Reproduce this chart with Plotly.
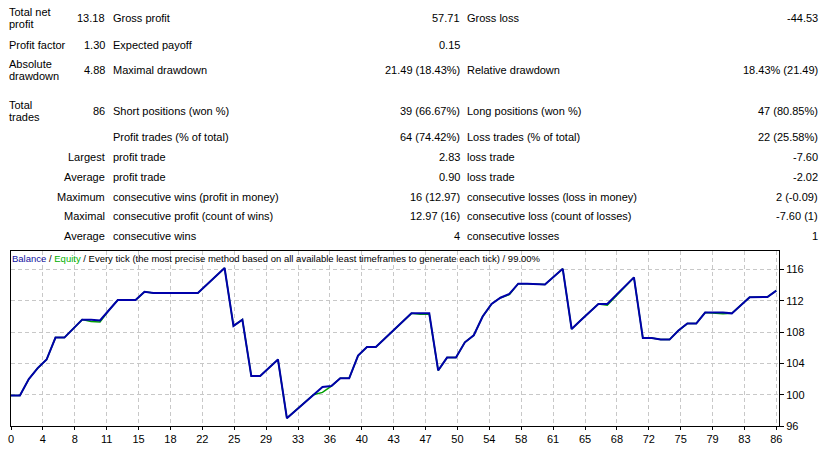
import plotly.graph_objects as go

# ---------------- data ----------------
trades = [0, 1, 2, 3, 4, 5, 6, 8, 9, 10, 11, 12, 14, 15, 16, 21, 24, 25, 26, 27, 28, 30,
          31, 32, 33, 34, 35, 36, 37, 38, 39, 40, 41, 45, 46, 47, 48, 49, 50, 51, 52, 53,
          54, 55, 56, 57, 58, 60, 62, 63, 64, 65, 66, 67, 70, 71, 72, 73, 74, 75, 76, 77,
          78, 80, 81, 83, 85, 86]
balance = [99.9, 99.9, 102.0, 103.4, 104.5, 107.3, 107.3, 109.6, 109.6, 109.5, 110.8, 112.1,
           112.1, 113.15, 113.0, 113.0, 116.2, 108.8, 109.6, 102.4, 102.4, 104.5,
           97.0, 98.0, 99.0, 100.0, 101.0, 101.1, 102.1, 102.1, 105.0, 106.1, 106.1, 110.4,
           110.4, 110.4, 103.1, 104.75, 104.75, 106.7, 107.6, 110.0,
           111.6, 112.4, 112.9, 114.2, 114.2, 114.1, 116.1, 108.4, 109.5, 110.6, 111.6, 111.6,
           115.0, 107.25, 107.25, 107.05, 107.05, 108.2, 109.1, 109.1,
           110.5, 110.5, 110.4, 112.45, 112.5, 113.3]
equity = [99.9, 99.9, 102.0, 103.4, 104.5, 107.3, 107.3, 109.6, 109.35, 109.3, 110.8, 112.1,
          112.1, 113.15, 113.0, 113.0, 116.2, 108.8, 109.6, 102.4, 102.4, 104.5,
          97.0, 98.0, 99.0, 100.0, 100.3, 101.1, 102.1, 102.1, 105.0, 106.1, 106.1, 110.4,
          110.3, 110.3, 103.1, 104.75, 104.75, 106.7, 107.6, 110.0,
          111.6, 112.4, 112.8, 114.2, 114.2, 114.1, 116.1, 108.4, 109.5, 110.6, 111.6, 111.45,
          115.0, 107.25, 107.25, 107.05, 107.05, 108.2, 109.1, 109.1,
          110.5, 110.35, 110.4, 112.45, 112.5, 113.3]

x_tick_labels = ["0", "4", "8", "11", "15", "18", "22", "25", "29", "33", "36", "40", "43",
                 "47", "50", "54", "58", "61", "65", "68", "72", "75", "79", "83", "86"]
y_tick_values = [96, 100, 104, 108, 112, 116]

col1_labels = ["Total net\nprofit", "Profit factor", "Absolute\ndrawdown", "Total\ntrades",
               "", "", "", "", "", ""]
col1_values = ["13.18", "1.30", "4.88", "86", "", "Largest", "Average", "Maximum",
               "Maximal", "Average"]
col2_labels = ["Gross profit", "Expected payoff", "Maximal drawdown", "Short positions (won %)",
               "Profit trades (% of total)", "profit trade", "profit trade",
               "consecutive wins (profit in money)", "consecutive profit (count of wins)",
               "consecutive wins"]
col2_values = ["57.71", "0.15", "21.49 (18.43%)", "39 (66.67%)", "64 (74.42%)", "2.83", "0.90",
               "16 (12.97)", "12.97 (16)", "4"]
col3_labels = ["Gross loss", "", "Relative drawdown", "Long positions (won %)",
               "Loss trades (% of total)", "loss trade", "loss trade",
               "consecutive losses (loss in money)", "consecutive loss (count of losses)",
               "consecutive losses"]
col3_values = ["-44.53", "", "18.43% (21.49)", "47 (80.85%)", "22 (25.58%)", "-7.60", "-2.02",
               "2 (-0.09)", "-7.60 (1)", "1"]

title_parts = ["Balance", " / ", "Equity",
               " / Every tick (the most precise method based on all available least timeframes to generate each tick) / 99.00%"]

# ---------------- layout constants ----------------
W, H = 832, 453
L, R, T, B = 8, 53, 251, 23
PW, PH = W - L - R, H - T - B
FONT = "Liberation Sans, Arial, sans-serif"
FS = 11
row_y = [13, 40.3, 66.3, 108, 134.7, 155.3, 175.3, 195.5, 215.5, 235.5]
X_C1L, X_C1V, X_C2L, X_C2V, X_C3L, X_C3V = 4, 104, 108, 461, 464, 820
LINE_GAP = 6.2


def px(x, y):
    return (x - L) / PW, (H - B - y) / PH


fig = go.Figure()
fig.add_trace(go.Scatter(x=trades, y=equity, mode="lines",
                         line=dict(color="#00A000", width=1.5), name="Equity",
                         hoverinfo="skip"))
fig.add_trace(go.Scatter(x=trades, y=balance, mode="lines",
                         line=dict(color="#0000AA", width=2), name="Balance"))

ann = []


def text(x, y, s, anchor="left", color="#000000", size=FS):
    xp, yp = px(x, y)
    ann.append(dict(x=xp, y=yp, xref="paper", yref="paper", text=s, showarrow=False,
                    xanchor=anchor, yanchor="middle",
                    font=dict(family=FONT, size=size, color=color)))


for i, yy in enumerate(row_y):
    lab = col1_labels[i]
    if lab:
        lines = lab.split("\n")
        if len(lines) == 2:
            text(X_C1L, yy - LINE_GAP, lines[0])
            text(X_C1L, yy + LINE_GAP, lines[1])
        else:
            text(X_C1L, yy, lab)
    if col1_values[i]:
        text(X_C1V, yy, col1_values[i], "right")
    if col2_labels[i]:
        text(X_C2L, yy, col2_labels[i])
    if col2_values[i]:
        text(X_C2V, yy, col2_values[i], "right")
    if col3_labels[i]:
        text(X_C3L, yy, col3_labels[i])
    if col3_values[i]:
        text(X_C3V, yy, col3_values[i], "right")

title_colors = ["#1010A0", "#000000", "#00B000", "#000000"]
title_html = "".join(f"<span style='color:{c}'>{t}</span>" for t, c in zip(title_parts, title_colors))
text(7, 259, title_html, size=9.5)

n = len(x_tick_labels)
tickvals = [trades[-1] * i / (n - 1) for i in range(n)]

fig.update_layout(
    width=W, height=H, margin=dict(l=L, r=R, t=T, b=B, pad=0),
    paper_bgcolor="white", plot_bgcolor="white", showlegend=False,
    annotations=ann,
    font=dict(family=FONT, size=FS, color="#000000"),
    xaxis=dict(range=[0, 86.3], tickvals=tickvals, ticktext=x_tick_labels,
               showgrid=True, gridcolor="#C8C8C8", griddash="4px,3px", gridwidth=1,
               zeroline=False, showline=True, linecolor="#000000", linewidth=1, mirror=True,
               ticks="outside", ticklen=3, tickcolor="#000000",
               tickfont=dict(family=FONT, size=FS, color="#000000")),
    yaxis=dict(range=[96, 118.375], tickvals=y_tick_values, side="right",
               showgrid=True, gridcolor="#C8C8C8", griddash="4px,3px", gridwidth=1,
               zeroline=False, showline=True, linecolor="#000000", linewidth=1, mirror=True,
               ticks="outside", ticklen=4, tickcolor="#000000",
               tickfont=dict(family=FONT, size=FS, color="#000000")),
)

fig.write_html("out.html")
